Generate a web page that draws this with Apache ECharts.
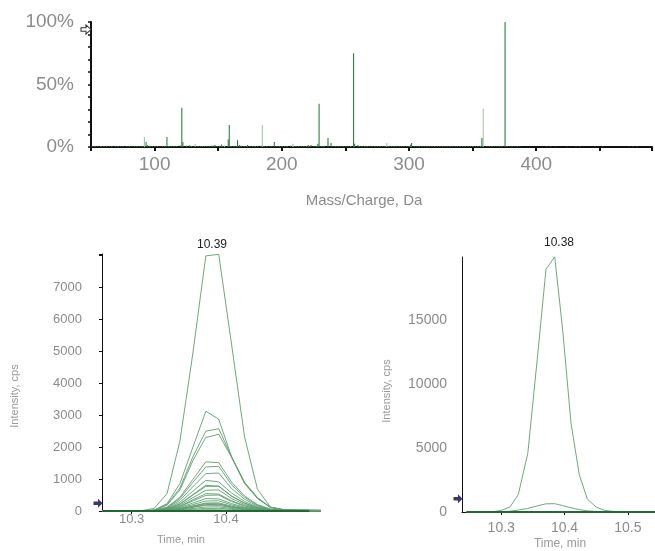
<!DOCTYPE html>
<html><head><meta charset="utf-8">
<script src="https://cdn.jsdelivr.net/npm/echarts@6/dist/echarts.min.js"></script>
<style>html,body{margin:0;padding:0;background:#fff}#c{width:655px;height:551px}</style>
</head><body><div id="c"></div>
<script>
// ---------- Mass spectrum (top) ----------
const specMzDark  = [57.3, 93.3, 94.6, 109.7, 120.1, 121.4, 122.2, 127.6, 137.6, 146.7, 147.5, 152.7, 157.9, 158.7, 165.2, 166.7, 173.0, 181.0, 183.5, 190.7, 194.1, 206.9, 220.7, 223.0, 228.3, 229.3, 236.3, 238.7, 240.2, 256.4, 257.2, 259.8, 301.2, 302.0, 357.3, 375.5];
const specIntDark = [0.8, 4.0, 1.6, 8.0, 1.5, 31.5, 4.0, 1.5, 0.8, 1.3, 1.6, 2.0, 6.0, 17.7, 5.5, 1.6, 1.6, 1.0, 1.0, 0.8, 4.0, 1.0, 1.6, 1.6, 2.7, 34.7, 7.3, 3.2, 0.6, 75.0, 2.7, 1.6, 1.9, 3.2, 7.3, 100];
const specMzLight  = [92.0, 131.9, 154.8, 184.7, 208.7, 282.5, 338.0, 358.3];
const specIntLight = [8.1, 2.5, 1.5, 17.7, 2.7, 3.2, 0.5, 30.6];
const noiseMz  = [51,53,55,58,60,62,64,66,69,71,73,75,78,80,82,84,86,88,90,96,98,100,102,104,106,108,111,113,115,117,125,129,134,136,139,141,143,145,149,151,153,155,160,162,164,168,170,172,175,177,179,186,188,192,196,198,200,202,204,209,211,213,215,217,219,221,225,227,231,233,242,244,246,248,250,252,254,261,263,265,267,269,271,273,275,277,279,281,284,286,288,290,292,294,296,298,300,304,306,308,310,312,314,316,318,320,322,324,326,328,330,332,334,336,340,342,344,346,348,350,352,354,356,361,363,365,367,369,371,373,377,379,381,383,385,387,408,411,415,424,431,434,446,452,473,476,479,481];
const noiseInt = [0.6,0.8,0.5,0.7,0.6,0.9,0.5,0.7,0.6,0.8,0.5,0.7,0.6,0.9,0.5,0.7,0.8,0.6,0.7,0.9,0.6,0.8,0.7,0.5,0.9,0.6,0.8,0.7,0.6,0.9,1.0,0.7,0.8,0.6,0.9,0.7,0.8,1.1,0.7,0.9,0.6,0.8,0.7,0.9,0.6,1.0,0.8,0.7,0.6,0.9,0.8,0.7,0.9,0.6,0.8,0.7,0.9,0.6,0.8,0.7,0.9,0.8,0.6,0.7,0.9,0.8,0.7,0.6,0.9,0.8,0.7,0.9,0.6,0.8,0.7,0.6,0.8,0.7,0.6,0.8,0.9,0.7,0.6,0.8,0.7,0.9,0.6,0.7,0.8,0.6,0.9,0.7,0.6,0.8,0.7,0.6,0.8,0.7,0.6,0.8,0.7,0.6,0.9,0.7,0.6,0.8,0.7,0.6,0.8,0.7,0.6,0.8,0.7,0.6,0.9,0.7,0.8,0.6,0.7,0.8,0.6,0.7,0.9,0.6,0.7,0.8,0.6,0.7,0.8,0.6,0.7,0.5,0.6,0.5,0.6,0.5,0.4,0.5,0.4,0.5,0.4,0.4,0.5,0.4,0.4,0.5,0.4];
const specYTicks = [0, 50, 100];

// ---------- XIC left (many fragment traces) ----------
const leftTimes = [10.2690, 10.2827, 10.2964, 10.3101, 10.3238, 10.3375, 10.3512, 10.3649, 10.3786, 10.3923, 10.4060, 10.4197, 10.4334, 10.4471, 10.4608, 10.4745, 10.4882, 10.5019];
const leftTraces = [
  [0,0,0,10,80,545,2200,4950,7990,8040,5200,2320,680,125,40,25,20,15],
  [0,0,0,5,30,230,860,2000,3125,2875,1690,900,420,120,45,30,25,20],
  [0,0,0,5,25,200,720,1700,2500,2580,1690,880,400,115,40,30,25,20],
  [0,0,0,5,25,185,660,1580,2300,2405,1680,860,390,110,40,30,25,20],
  [0,0,0,3,18,120,430,990,1540,1515,900,470,200,60,25,15,12,10],
  [0,0,0,3,16,110,390,900,1380,1400,820,430,180,55,22,15,12,10],
  [0,0,0,3,14,95,335,760,1170,1190,700,370,155,48,20,12,10,8],
  [0,0,0,2,12,80,275,620,960,913,560,300,125,40,18,10,8,6],
  [0,0,0,2,10,65,225,515,806,775,470,250,105,33,15,10,8,6],
  [0,0,0,2,10,62,218,500,770,780,460,245,100,32,15,10,8,6],
  [0,0,0,2,8,52,182,416,650,660,390,205,85,27,12,8,6,5],
  [0,0,0,1,7,44,152,350,545,530,320,170,70,22,10,7,5,4],
  [0,0,0,1,6,39,137,315,490,500,295,155,65,20,9,6,5,4],
  [0,0,0,1,5,31,110,250,390,380,230,120,50,16,8,5,4,3],
  [0,0,0,1,4,25,88,200,314,320,190,100,42,14,7,5,4,3],
  [0,0,0,1,3,20,70,160,250,255,150,80,34,11,6,4,3,2],
  [0,0,0,1,3,18,64,147,230,225,135,72,30,10,5,4,3,2],
  [0,0,0,1,3,16,56,128,200,210,125,66,28,9,5,3,3,2],
  [0,0,0,0,2,14,50,115,180,175,105,56,24,8,4,3,2,2],
  [0,0,0,0,2,10,35,80,125,130,78,41,17,6,3,2,2,1],
  [0,0,0,0,1,6,22,51,80,85,50,27,11,4,2,1,1,1],
  [0,0,0,0,1,3,11,26,40,40,24,13,5,2,1,1,1,0]
];
const leftPeakLabel = '10.39';

// ---------- XIC right ----------
const rightTimes = [10.2450, 10.2584, 10.2716, 10.2848, 10.3006, 10.3138, 10.3269, 10.3420, 10.3570, 10.3707, 10.3845, 10.3971, 10.4103, 10.4234, 10.4361, 10.4498, 10.4630, 10.4762, 10.4894, 10.5026, 10.5158, 10.5290, 10.5422, 10.5554];
const rightMain  = [0,0,0,0,130,390,1350,4600,12000,18980,19970,14240,6950,2910,1010,390,130,50,30,20,15,10,10,10];
const rightMinor = [0,0,0,0,20,60,150,280,480,640,650,500,330,190,90,40,20,10,5,5,5,5,5,5];
const rightPeakLabel = '10.38';

const FONT = "'Liberation Sans', Arial, sans-serif";
const GREY = '#8c8c8c';
const DARK = '#2f7f45';
const LIGHT = '#a9c5ad';
const TRACE = '#5f9f70';
const BASE = '#1f6a33';
const arrowPath = 'path://M0,3 L5,3 L5,0 L10,5 L5,10 L5,7 L0,7 Z';

const zip = (a, b) => a.map((v, i) => [v, b[i]]);

const series = [];
series.push({ type: 'bar', xAxisIndex: 0, yAxisIndex: 0, data: zip(noiseMz, noiseInt), barWidth: 1.5, itemStyle: { color: DARK }, silent: true, barGap: '-100%' });
series.push({ type: 'bar', xAxisIndex: 0, yAxisIndex: 0, data: zip(specMzLight, specIntLight), barWidth: 1.1, itemStyle: { color: LIGHT }, barGap: '-100%' });
series.push({ type: 'bar', xAxisIndex: 0, yAxisIndex: 0, data: zip(specMzDark, specIntDark), barWidth: 1.1, itemStyle: { color: DARK }, barGap: '-100%',
  markPoint: { silent: true, symbol: arrowPath, symbolSize: [10, 9], symbolOffset: [-5, 0],
    itemStyle: { color: '#ffffff', borderColor: '#333', borderWidth: 1 }, label: { show: false },
    data: [{ coord: [50, 94] }] } });

leftTraces.forEach((tr, i) => {
  series.push({ type: 'line', xAxisIndex: 1, yAxisIndex: 1, data: zip(leftTimes, tr), showSymbol: false,
    lineStyle: { width: 1, color: TRACE, opacity: 0.9 }, z: 2 });
});
series.push({ type: 'line', xAxisIndex: 1, yAxisIndex: 1, data: zip(leftTimes.slice(0, 17), leftTimes.slice(0, 17).map(() => 0)), showSymbol: false,
  lineStyle: { width: 2, color: BASE }, z: 3,
  markPoint: { silent: true, symbol: arrowPath, symbolSize: [9, 9], symbolOffset: [-4, 0], itemStyle: { color: '#3a3868' }, label: { show: false },
    data: [{ coord: [10.2685, 241] }] } });

series.push({ type: 'line', xAxisIndex: 2, yAxisIndex: 2, data: zip(rightTimes, rightMain), showSymbol: false, lineStyle: { width: 1, color: TRACE, opacity: 0.9 }, z: 2 });
series.push({ type: 'line', xAxisIndex: 2, yAxisIndex: 2, data: zip(rightTimes, rightMinor), showSymbol: false, lineStyle: { width: 1, color: TRACE, opacity: 0.9 }, z: 2 });
series.push({ type: 'line', xAxisIndex: 2, yAxisIndex: 2, data: zip(rightTimes, rightTimes.map(() => 0)), showSymbol: false,
  lineStyle: { width: 2, color: BASE }, z: 3,
  markPoint: { silent: true, symbol: arrowPath, symbolSize: [9, 9], symbolOffset: [-4, 0], itemStyle: { color: '#3a3868' }, label: { show: false },
    data: [{ coord: [10.238, 1040] }] } });

const txt = (x, y, text, size, color, rot) => ({ type: 'text', x, y, rotation: rot || 0,
  style: { text, fill: color, font: size + 'px ' + FONT, textAlign: 'center', textVerticalAlign: 'middle' } });

const option = {
  animation: false,
  backgroundColor: '#ffffff',
  grid: [
    { left: 91, top: 22, width: 564, height: 125 },
    { left: 102, top: 254, width: 218, height: 257 },
    { left: 462, top: 257, width: 193, height: 255 }
  ],
  xAxis: [
    { type: 'value', gridIndex: 0, min: 50, max: 491, interval: 50,
      axisLine: { lineStyle: { color: '#111', width: 2 } },
      axisTick: { length: 4, lineStyle: { color: '#111', width: 2 } },
      axisLabel: { fontSize: 19, color: GREY, fontFamily: FONT, margin: 8, formatter: v => (v % 100 === 0 ? String(v) : '') },
      splitLine: { show: false } },
    { type: 'value', gridIndex: 1, min: 10.2685, max: 10.4997, splitNumber: 2,
      axisLine: { lineStyle: { color: '#111', width: 1 } },
      axisTick: { length: 3, lineStyle: { color: '#111' } },
      axisLabel: { fontSize: 13, color: GREY, fontFamily: FONT, margin: 2, showMinLabel: false, showMaxLabel: false },
      splitLine: { show: false } },
    { type: 'value', gridIndex: 2, min: 10.238, max: 10.543, splitNumber: 3,
      axisLine: { lineStyle: { color: '#111', width: 1 } },
      axisTick: { length: 3, lineStyle: { color: '#111' } },
      axisLabel: { fontSize: 14, color: GREY, fontFamily: FONT, margin: 9, showMinLabel: false, showMaxLabel: false },
      splitLine: { show: false } }
  ],
  yAxis: [
    { type: 'value', gridIndex: 0, min: 0, max: 100, interval: 10,
      axisLine: { show: true, lineStyle: { color: '#111', width: 2 } },
      axisTick: { show: true, length: 3, lineStyle: { color: '#111', width: 1.5 } },
      axisLabel: { fontSize: 19, color: GREY, fontFamily: FONT, margin: 17, formatter: v => (specYTicks.indexOf(v) >= 0 ? v + '%' : '') },
      splitLine: { show: false } },
    { type: 'value', gridIndex: 1, min: 0, max: 8050, interval: 1000,
      axisLine: { show: true, lineStyle: { color: '#111', width: 1 } },
      axisTick: { show: true, length: 3, lineStyle: { color: '#111' } },
      axisLabel: { fontSize: 13, color: GREY, fontFamily: FONT, margin: 20, formatter: v => (v <= 7000 ? String(v) : '') },
      splitLine: { show: false } },
    { type: 'value', gridIndex: 2, min: 0, max: 19950, interval: 5000,
      axisLine: { show: true, lineStyle: { color: '#111', width: 1 } },
      axisTick: { show: false },
      axisLabel: { fontSize: 14, color: GREY, fontFamily: FONT, margin: 15, formatter: v => (v <= 15000 ? String(v) : '') },
      splitLine: { show: false } }
  ],
  graphic: [
    txt(364, 201, 'Mass/Charge, Da', 15, GREY),
    txt(212, 245, leftPeakLabel, 12, '#222'),
    txt(559, 243, rightPeakLabel, 12, '#222'),
    txt(181, 540, 'Time, min', 11, '#9a9a9a'),
    txt(560, 544, 'Time, min', 12, '#9a9a9a'),
    txt(15, 396, 'Intensity, cps', 11, '#9a9a9a', Math.PI / 2),
    txt(387, 391, 'Intensity, cps', 11, '#9a9a9a', Math.PI / 2)
  ],
  series
};

const chart = echarts.init(document.getElementById('c'), null, { renderer: 'canvas' });
chart.setOption(option);
</script>
</body></html>
